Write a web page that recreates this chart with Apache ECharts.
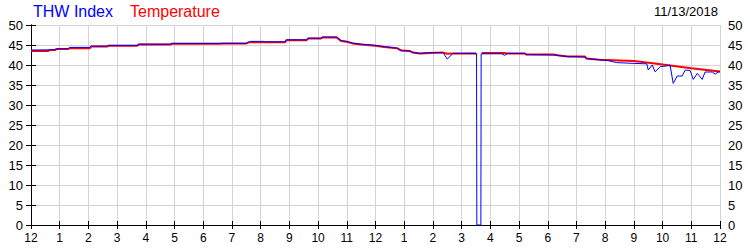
<!DOCTYPE html>
<html><head><meta charset="utf-8">
<script src="https://cdn.jsdelivr.net/npm/echarts@6/dist/echarts.min.js"></script>
<style>html,body{margin:0;padding:0;background:#fff}#c{width:750px;height:250px}</style>
</head><body><div id="c"></div>
<script>
const seriesNames = ['THW Index', 'Temperature'];
const dateLabel = '11/13/2018';
const hourLabels = ['12','1','2','3','4','5','6','7','8','9','10','11','12','1','2','3','4','5','6','7','8','9','10','11','12'];
const yTicks = [0,5,10,15,20,25,30,35,40,45,50];

const tempHours = [0,0.6,0.65,0.85,0.9,1.3,1.35,2.05,2.1,2.65,2.7,3.7,3.75,4.85,4.9,6.6,6.65,7.5,7.6,8.85,8.9,9.6,9.65,10.1,10.15,10.65,10.8,11.0,11.2,11.5,12.0,12.3,12.75,12.9,13.2,13.3,13.55,13.9,14.35,14.5,14.7,15.5,15.55,15.7,16.5,16.55,17.2,17.25,18.2,18.4,18.7,19.3,19.35,19.8,21.0,21.8,23.0,24.0];
const tempValues = [43.5,43.5,43.75,43.75,44.0,44.0,44.2,44.2,44.6,44.6,44.8,44.8,45.1,45.1,45.3,45.3,45.4,45.4,45.7,45.7,46.2,46.2,46.6,46.6,46.9,46.9,46.0,45.8,45.4,45.1,44.8,44.5,44.2,43.6,43.5,43.1,42.9,43.0,43.1,42.8,42.9,42.9,null,43.0,43.0,42.9,42.9,42.6,42.6,42.4,42.1,42.1,41.6,41.3,41.0,40.3,39.2,38.4];

const thwHours = [0,0.8,0.85,1.3,1.35,2.05,2.1,2.65,2.7,3.7,3.75,4.85,4.9,7.5,7.65,8.1,8.15,8.85,8.9,9.6,9.65,10.1,10.15,10.65,10.8,11.0,11.2,11.5,12.0,12.3,12.75,12.9,13.2,13.3,13.55,13.9,14.35,14.5,14.7,15.52,15.53,15.67,15.68,16.4,16.5,16.6,17.2,17.25,18.2,18.7,19.3,19.35,19.8,20.1,20.4,21.0,21.45,21.5,21.64,21.74,21.92,22.09,22.26,22.37,22.51,22.68,22.79,22.96,23.07,23.21,23.38,23.48,23.73,23.83,23.94,24.0];
const thwValues = [43.75,43.8,44.0,44.1,44.4,44.4,44.7,44.7,44.9,44.9,45.2,45.2,45.4,45.4,45.9,45.9,45.8,45.8,46.3,46.3,46.7,46.7,47.0,47.0,46.1,45.9,45.5,45.2,44.9,44.6,44.2,43.6,43.5,43.1,42.9,43.1,43.1,41.5,42.9,42.9,0,0,42.8,42.8,42.4,42.9,42.9,42.6,42.5,42.1,42.0,41.6,41.3,41.1,40.6,40.4,40.3,38.75,40.0,38.3,39.6,39.7,40.0,35.4,37.25,37.25,38.75,38.6,36.4,37.9,36.4,38.25,38.25,37.7,38.25,38.3];

const pair = (xs, ys) => xs.map((x, i) => [x, ys[i]]);
const font = 'Liberation Sans, Arial, sans-serif';

const chart = echarts.init(document.getElementById('c'), null, {renderer: 'svg'});
const axisLine = {show: true, lineStyle: {color: '#000', width: 1}};
chart.setOption({
  animation: false,
  backgroundColor: '#fff',
  grid: {left: 31, right: 30, top: 25, bottom: 25, containLabel: false},
  graphic: [
    {type: 'text', left: 33, top: 3, style: {text: seriesNames[0], fill: '#0000ff', font: '16px ' + font}},
    {type: 'text', left: 130, top: 3, style: {text: seriesNames[1], fill: '#ff0000', font: '16px ' + font}},
    {type: 'text', right: 32, top: 5, style: {text: dateLabel, fill: '#000', font: '13px ' + font}}
  ],
  xAxis: [
    {type: 'value', min: 0, max: 24, interval: 1, position: 'bottom',
     axisLine: axisLine, axisTick: {inside: true, length: 4, lineStyle: {color: '#000'}},
     axisLabel: {margin: 7, color: '#000', fontSize: 12, fontFamily: font, formatter: v => hourLabels[v]},
     splitLine: {show: true, lineStyle: {color: '#d3d3d3', width: 1}}},
    {type: 'value', min: 0, max: 24, interval: 1, position: 'top',
     axisLine: axisLine, axisTick: {inside: true, length: 4, lineStyle: {color: '#000'}},
     axisLabel: {show: false}, splitLine: {show: false}}
  ],
  yAxis: [
    {type: 'value', min: yTicks[0], max: yTicks[yTicks.length-1], interval: 5, position: 'left',
     axisLine: axisLine, axisTick: {inside: true, length: 5, lineStyle: {color: '#000'}},
     axisLabel: {margin: 8, color: '#000', fontSize: 13, fontFamily: font},
     splitLine: {show: true, lineStyle: {color: '#d3d3d3', width: 1}}},
    {type: 'value', min: yTicks[0], max: yTicks[yTicks.length-1], interval: 5, position: 'right',
     axisLine: axisLine, axisTick: {inside: true, length: 5, lineStyle: {color: '#000'}},
     axisLabel: {margin: 8, color: '#000', fontSize: 13, fontFamily: font},
     splitLine: {show: false}}
  ],
  series: [
    {name: seriesNames[1], type: 'line', data: pair(tempHours, tempValues), showSymbol: false,
     connectNulls: false, lineStyle: {color: '#ff0000', width: 2}, z: 2},
    {name: seriesNames[0], type: 'line', data: pair(thwHours, thwValues), showSymbol: false,
     lineStyle: {color: '#0000ff', width: 1}, z: 3}
  ]
});
</script></body></html>
